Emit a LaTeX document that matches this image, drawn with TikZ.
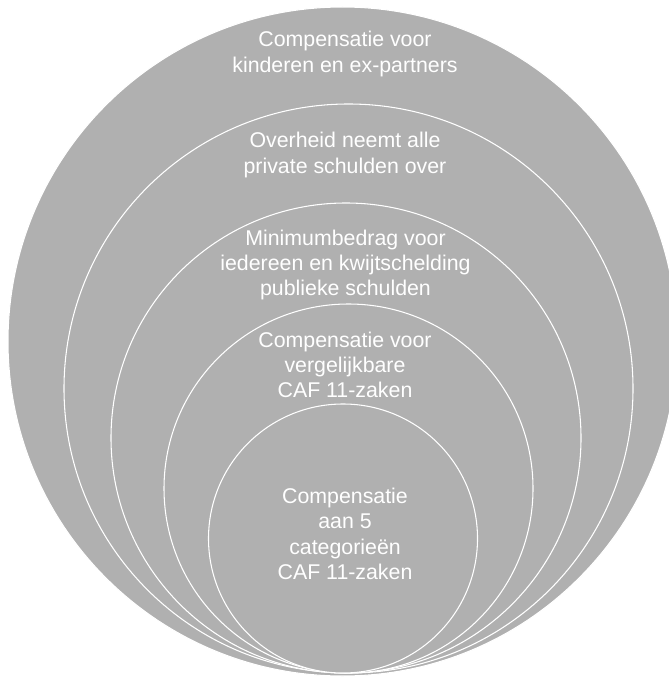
\documentclass[tikz,border=0pt]{standalone}
\usepackage{fontspec}
\setmainfont{Liberation Sans}
\usetikzlibrary{positioning}
\definecolor{ringgray}{RGB}{176,176,176}

\begin{document}
\begin{tikzpicture}[
    x=0.75pt, y=-0.75pt,
    ring/.style={circle, draw=white, line width=0.8pt, fill=ringgray, inner sep=0pt},
    ringtext/.style={text=white, align=center, font=\fontsize{16}{19}\selectfont}
]
\useasboundingbox (0,0) rectangle (668,677);
\fill[white] (0,0) rectangle (668,677);

% Rings, largest first
\node[ring, minimum size=501.75pt] (ring1) at (342.5,341.5) {};
\node[ring, minimum size=426.75pt] (ring2) at (348.5,388.5) {};
\node[ring, minimum size=352.5pt] (ring3) at (346,438) {};
\node[ring, minimum size=276.75pt] (ring4) at (348.5,488.5) {};
\node[ring, minimum size=201.75pt] (ring5) at (343,538.5) {};

% Texts
\node[ringtext] (text1) at (345,54) {Compensatie voor\\kinderen en ex-partners};
\node[ringtext] (text2) at (345,155) {Overheid neemt alle\\private schulden over};
\node[ringtext] (text3) at (345.5,265) {Minimumbedrag voor\\iedereen en kwijtschelding\\publieke schulden};
\node[ringtext] (text4) at (345,365) {Compensatie voor\\vergelijkbare\\CAF 11-zaken};
\node[ringtext] (text5) at (345,534) {Compensatie\\aan 5\\categorieën\\CAF 11-zaken};

\end{tikzpicture}
\end{document}
